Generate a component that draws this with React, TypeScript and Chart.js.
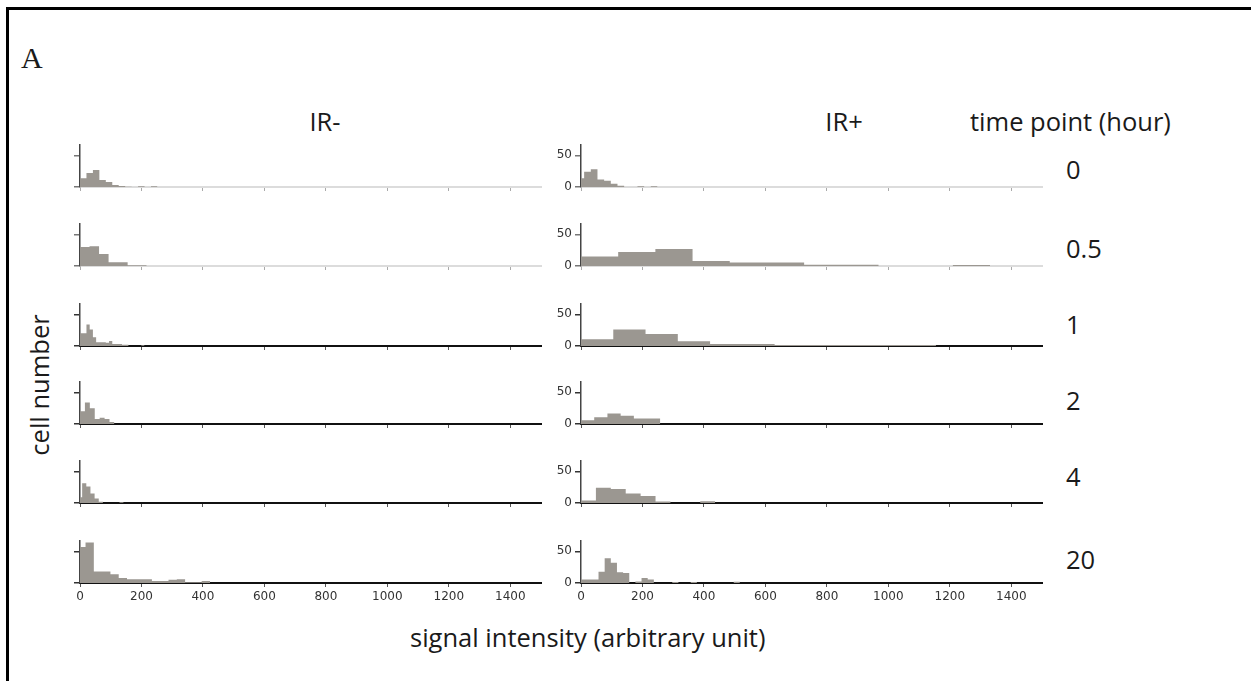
import React, { useEffect, useRef } from "react";
import { Chart, registerables } from "chart.js";

Chart.register(...registerables);

// ---- tick labels / categories ----
const X_TICKS = [0, 200, 400, 600, 800, 1000, 1200, 1400];
const Y_TICKS = [0, 50];
const TIME_POINTS = ["0", "0.5", "1", "2", "4", "20"];
const COLUMN_TITLES = ["IR-", "IR+"];

// ---- IR- histograms (bin start, bin width, counts) ----
const IRM_START = [0, 0, 0, 0, -6.5, -9];
const IRM_WIDTH = [21, 31, 10.5, 16, 13.5, 27];
const IRM_T0 = [14, 22, 27, 11, 8, 3, 1.5, 0.5, 0, 1, 0, 1];
const IRM_T05 = [30, 31, 19, 6, 6, 1, 1];
const IRM_T1 = [20, 20, 34, 26, 14, 6, 6, 6, 5, 8, 3, 3, 3, 2, 2, 0, 0, 0, 0, 1];
const IRM_T2 = [20, 34, 25, 8, 10, 8, 3];
const IRM_T4 = [9, 31, 26, 15, 7, 2, 0, 0, 0, 0, 1];
const IRM_T20 = [57, 64, 18, 18, 14, 8, 6, 6, 6, 3.3, 3, 5, 6, 1, 1, 3.3];

// ---- IR+ histograms ----
const IRP_START = [-11.5, 0, 0, 0, 0, -3];
const IRP_WIDTH = [21.7, 121, 105, 43, 48.5, 20];
const IRP_T0 = [14, 24, 28, 12, 10, 5, 2, 0, 0, 1, 0, 1];
const IRP_T05 = [15, 22, 27, 8, 5.7, 5.7, 2, 2, 0, 0, 1.5];
const IRP_T1 = [10.5, 26, 19, 7.6, 3, 3, 1.4, 1.4, 1.4, 1.4, 1.4];
const IRP_T2 = [6, 10.5, 16.7, 13, 8.6, 8.6];
const IRP_T4 = [3.8, 24, 22, 15, 11, 2.4, 0, 0, 2.9];
const IRP_T20 = [5.7, 5.7, 5.7, 17.6, 39, 32, 17, 15.7, 0, 2.4, 8, 5.7, 0, 0, 0, 1.5, 0, 0, 1.5, 0, 0, 0, 0, 0, 0, 2];

const IRM_COUNTS = [IRM_T0, IRM_T05, IRM_T1, IRM_T2, IRM_T4, IRM_T20];
const IRP_COUNTS = [IRP_T0, IRP_T05, IRP_T1, IRP_T2, IRP_T4, IRP_T20];

// ---- layout ----
const X_MAX = 1500;
const Y_MAX = 66;
const PLOT_W = 461;
const PLOT_H = 46;
const Y_AXIS_W = 40;
const X_AXIS_H = 24;
const PAD_TOP = 6;
const PAD_RIGHT = 4;
const COL_LEFT = [80, 581];
const ROW_BASE = [187, 266, 346, 424, 503, 583];
const LABEL_Y = [170, 249, 325, 401, 477, 560];
const FILL = "#9b9791";
const BIG = 25.5;

type PanelProps = {
  col: number;
  row: number;
  start: number;
  width: number;
  counts: number[];
};

function Panel({ col, row, start, width, counts }: PanelProps) {
  const ref = useRef<HTMLCanvasElement>(null);
  const bottom = row === 5;
  const faint = row < 2;
  const cw = Y_AXIS_W + PLOT_W + PAD_RIGHT;
  const ch = PAD_TOP + PLOT_H + X_AXIS_H;

  useEffect(() => {
    if (!ref.current) return;
    const pts = counts.map((c, i) => ({ x: start + i * width, y: c }));
    pts.push({ x: start + counts.length * width, y: 0 });
    const chart = new Chart(ref.current, {
      type: "line",
      data: {
        datasets: [
          {
            data: pts,
            stepped: "before",
            fill: "origin",
            backgroundColor: FILL,
            borderColor: "rgba(0,0,0,0)",
            borderWidth: 1,
            pointRadius: 0,
          },
        ],
      },
      options: {
        animation: false,
        responsive: false,
        maintainAspectRatio: false,
        layout: { padding: { top: PAD_TOP, right: PAD_RIGHT, left: 0, bottom: 0 } },
        plugins: { legend: { display: false }, tooltip: { enabled: false } },
        scales: {
          x: {
            type: "linear",
            min: 0,
            max: X_MAX,
            z: 1,
            afterBuildTicks: (s: any) => {
              s.ticks = X_TICKS.map((v) => ({ value: v }));
            },
            afterFit: (s: any) => {
              s.height = X_AXIS_H;
            },
            ticks: {
              autoSkip: false,
              maxRotation: 0,
              padding: 3,
              color: "#333",
              font: { family: "DejaVu Sans", size: 12 },
              callback: (v: any) => (bottom ? String(v) : ""),
            },
            grid: {
              drawOnChartArea: false,
              drawTicks: true,
              tickLength: 4,
              color: faint ? "#aaa" : "#555",
              lineWidth: 1,
            },
            border: { display: true, color: faint ? "#dcdcdc" : "#111", width: 2 },
          },
          y: {
            type: "linear",
            min: 0,
            max: Y_MAX,
            z: 1,
            afterBuildTicks: (s: any) => {
              s.ticks = Y_TICKS.map((v) => ({ value: v }));
            },
            afterFit: (s: any) => {
              s.width = Y_AXIS_W;
            },
            ticks: {
              padding: 3,
              color: "#333",
              font: { family: "DejaVu Sans", size: 12 },
              callback: (v: any) => (col === 1 ? String(v) : ""),
            },
            grid: {
              drawOnChartArea: false,
              drawTicks: true,
              tickLength: 6,
              color: faint ? "#777" : "#333",
              lineWidth: 1.5,
            },
            border: { display: true, color: "#444", width: 1.5 },
          },
        },
      },
    } as any);
    return () => chart.destroy();
  }, []);

  return (
    <canvas
      ref={ref}
      width={cw}
      height={ch}
      style={{
        position: "absolute",
        left: COL_LEFT[col] - Y_AXIS_W,
        top: ROW_BASE[row] - PLOT_H - PAD_TOP,
        width: cw,
        height: ch,
      }}
    />
  );
}

const sans = '"Open Sans", "Noto Sans", sans-serif';

function Txt(props: { x: number; y: number; size: number; children: any; align?: string; family?: string }) {
  const { x, y, size, children, align = "left", family = sans } = props;
  const tx = align === "center" ? "-50%" : "0";
  return (
    <div
      style={{
        position: "absolute",
        left: x,
        top: y,
        transform: `translate(${tx}, -50%)`,
        fontFamily: family,
        fontSize: size,
        lineHeight: 1,
        whiteSpace: "nowrap",
        color: "#1a1a1a",
      }}
    >
      {children}
    </div>
  );
}

export default function App() {
  return (
    <div
      style={{
        position: "absolute",
        left: 0,
        top: 0,
        width: 1251,
        height: 681,
        overflow: "hidden",
        background: "#fff",
      }}
    >
      <div
        style={{
          position: "absolute",
          left: 6,
          top: 7,
          width: 1400,
          height: 800,
          borderLeft: "3px solid #000",
          borderTop: "3px solid #000",
        }}
      />
      <Txt x={21} y={58} size={30} family={'"Liberation Serif", "Times New Roman", serif'}>
        A
      </Txt>
      <Txt x={325} y={122} size={BIG} align="center">
        {COLUMN_TITLES[0]}
      </Txt>
      <Txt x={844} y={122} size={BIG} align="center">
        {COLUMN_TITLES[1]}
      </Txt>
      <Txt x={970} y={122} size={BIG}>
        time point (hour)
      </Txt>
      {TIME_POINTS.map((t, i) => (
        <Txt key={t} x={1066} y={LABEL_Y[i]} size={BIG}>
          {t}
        </Txt>
      ))}
      <Txt x={410} y={638} size={BIG}>
        signal intensity (arbitrary unit)
      </Txt>
      <div
        style={{
          position: "absolute",
          left: 40,
          top: 385,
          transform: "translate(-50%, -50%) rotate(-90deg)",
          fontFamily: sans,
          fontSize: BIG,
          lineHeight: 1,
          whiteSpace: "nowrap",
          color: "#1a1a1a",
        }}
      >
        cell number
      </div>
      {IRM_COUNTS.map((c, r) => (
        <Panel key={"m" + r} col={0} row={r} start={IRM_START[r]} width={IRM_WIDTH[r]} counts={c} />
      ))}
      {IRP_COUNTS.map((c, r) => (
        <Panel key={"p" + r} col={1} row={r} start={IRP_START[r]} width={IRP_WIDTH[r]} counts={c} />
      ))}
    </div>
  );
}
